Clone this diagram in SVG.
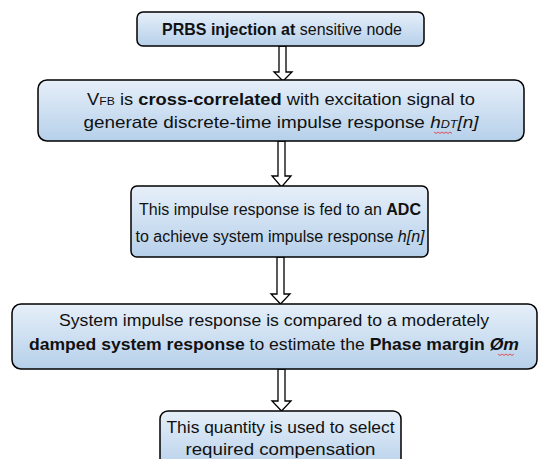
<svg xmlns="http://www.w3.org/2000/svg" width="549" height="459" viewBox="0 0 549 459">
<defs>
<linearGradient id="g" x1="0" y1="0" x2="0" y2="1">
<stop offset="0" stop-color="#e6eff9"/>
<stop offset="1" stop-color="#b6d0ea"/>
</linearGradient>
<style>
.box{fill:url(#g);stroke:#000;stroke-width:1.5}
.t{font-family:"Liberation Sans",Arial,sans-serif;font-size:16.5px;fill:#111;text-anchor:middle}
.m{font-size:16px}
.b{font-weight:bold}
.i{font-style:italic}
.s{font-size:11px}
.arr{fill:#fff;stroke:#000;stroke-width:1.3}
.sq{fill:none;stroke:#e03030;stroke-width:0.8}
</style>
</defs>
<rect width="549" height="459" fill="#fff"/>
<g id="connectors">
<path class="arr" d="M279,46 V72 H274 L283,81 L292,72 H286 V46 Z"/>
<path class="arr" d="M278,141 V176 H272 L281.5,187 L291,176 H285 V141 Z"/>
<path class="arr" d="M277,257 V294 H271 L280.5,304 L290,294 H284 V257 Z"/>
<path class="arr" d="M278,369 V401 H272 L281.5,411 L291,401 H285 V369 Z"/>
</g>
<g id="n1">
<rect class="box" x="137" y="12" width="287" height="34" rx="6"/>
<text class="t" x="282" y="35" textLength="240" lengthAdjust="spacingAndGlyphs"><tspan class="b">PRBS injection at</tspan> sensitive node</text>
</g>
<g id="n2">
<rect class="box" x="38" y="80" width="486" height="61" rx="9"/>
<text class="t" x="281" y="105" textLength="388" lengthAdjust="spacingAndGlyphs">V<tspan class="s">FB</tspan> is <tspan class="b">cross-correlated</tspan> with excitation signal to</text>
<text class="t" x="281" y="128" textLength="395" lengthAdjust="spacingAndGlyphs">generate discrete-time impulse response <tspan class="i">h<tspan class="s">DT</tspan>[n]</tspan></text>
<path class="sq" d="M434,132 l2,1.5 l2,-1.5 l2,1.5 l2,-1.5 l2,1.5 l2,-1.5 l2,1.5 l2,-1.5 l2,1.5"/>
</g>
<g id="n3">
<rect class="box" x="131" y="186" width="297" height="71" rx="6"/>
<text class="t m" x="280" y="215">This impulse response is fed to an <tspan class="b">ADC</tspan></text>
<text class="t m" x="280" y="242">to achieve system impulse response <tspan class="i">h[n]</tspan></text>
</g>
<g id="n4">
<rect class="box" x="12" y="304" width="525" height="65" rx="9"/>
<text class="t" x="274" y="326" textLength="430" lengthAdjust="spacingAndGlyphs">System impulse response is compared to a moderately</text>
<text class="t" x="274" y="350" textLength="490" lengthAdjust="spacingAndGlyphs"><tspan class="b">damped system response</tspan> to estimate the <tspan class="b">Phase margin </tspan><tspan class="b i">Øm</tspan></text>
<path class="sq" d="M498,354 l2,1.5 l2,-1.5 l2,1.5 l2,-1.5 l2,1.5 l2,-1.5 l2,1.5 l2,-1.5"/>
</g>
<g id="n5">
<rect class="box" x="160" y="411" width="241" height="60" rx="8"/>
<text class="t" x="280.5" y="433" textLength="228" lengthAdjust="spacingAndGlyphs">This quantity is used to select</text>
<text class="t" x="280.5" y="455" textLength="190" lengthAdjust="spacingAndGlyphs">required compensation</text>
</g>
</svg>
